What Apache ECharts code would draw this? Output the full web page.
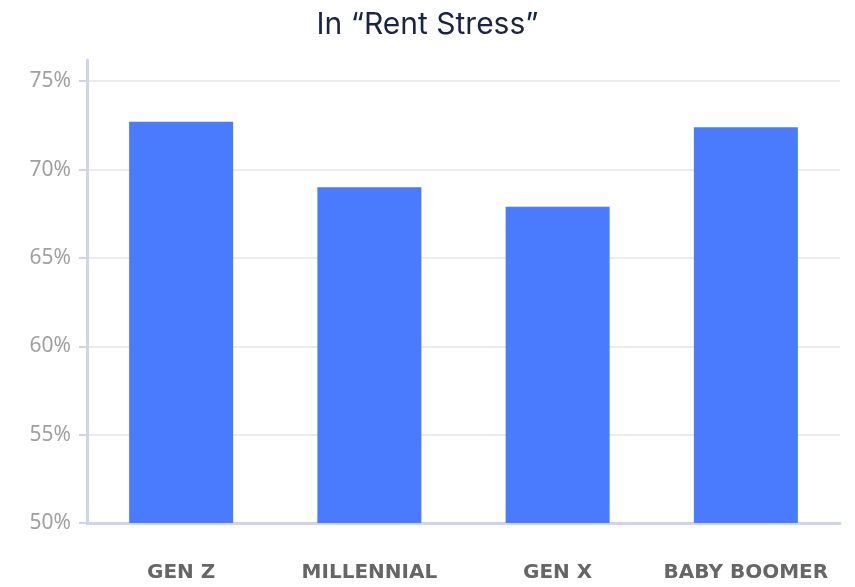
<!DOCTYPE html>
<html>
<head>
<meta charset="utf-8">
<script src="https://cdn.jsdelivr.net/npm/echarts@6/dist/echarts.min.js"></script>
<style>
  html, body { margin: 0; padding: 0; background: #fff; }
  #chart { width: 855px; height: 587px; }
</style>
</head>
<body>
<div id="chart"></div>
<script>
var categories = ['GEN Z', 'MILLENNIAL', 'GEN X', 'BABY BOOMER'];
var rentStress = [72.7, 69.0, 67.9, 72.4];

var myChart = echarts.init(document.getElementById('chart'));
var option = {
    title: {
        text: 'In \u201cRent Stress\u201d',
        left: 'center',
        top: 5,
        textStyle: {
            color: '#1b2440',
            fontFamily: 'Inter',
            fontWeight: 'normal',
            fontSize: 30
        }
    },
    grid: {
        top: 60,
        left: 87,
        right: 15,
        bottom: 64
    },
    xAxis: {
        type: 'category',
        data: categories,
        axisLine: {
            lineStyle: { color: '#cfd5e2', width: 3 }
        },
        axisTick: {
            alignWithLabel: true,
            length: 8,
            lineStyle: { color: '#cfd5e2', width: 2 }
        },
        axisLabel: {
            interval: 0,
            margin: 40,
            color: '#666',
            fontFamily: 'DejaVu Sans',
            fontWeight: 'bold',
            fontSize: 20
        }
    },
    yAxis: {
        type: 'value',
        min: 50,
        max: 76.2,
        interval: 5,
        axisLine: {
            show: true,
            lineStyle: { color: '#cfd5e2', width: 3 }
        },
        axisTick: {
            show: true,
            length: 8,
            lineStyle: { color: '#cfd5e2', width: 2 }
        },
        axisLabel: {
            margin: 16,
            color: '#a0a0a0',
            fontFamily: 'Noto Sans',
            fontSize: 21,
            showMaxLabel: false,
            formatter: function (v) {
                return v % 5 === 0 ? v + '%' : '';
            }
        },
        splitLine: {
            showMaxLine: false,
            lineStyle: { color: '#e6e6e6', width: 1.5 }
        }
    },
    series: [{
        type: 'bar',
        data: rentStress,
        barWidth: 104,
        itemStyle: { color: '#4a7bff' }
    }]
};
myChart.setOption(option);
</script>
</body>
</html>
